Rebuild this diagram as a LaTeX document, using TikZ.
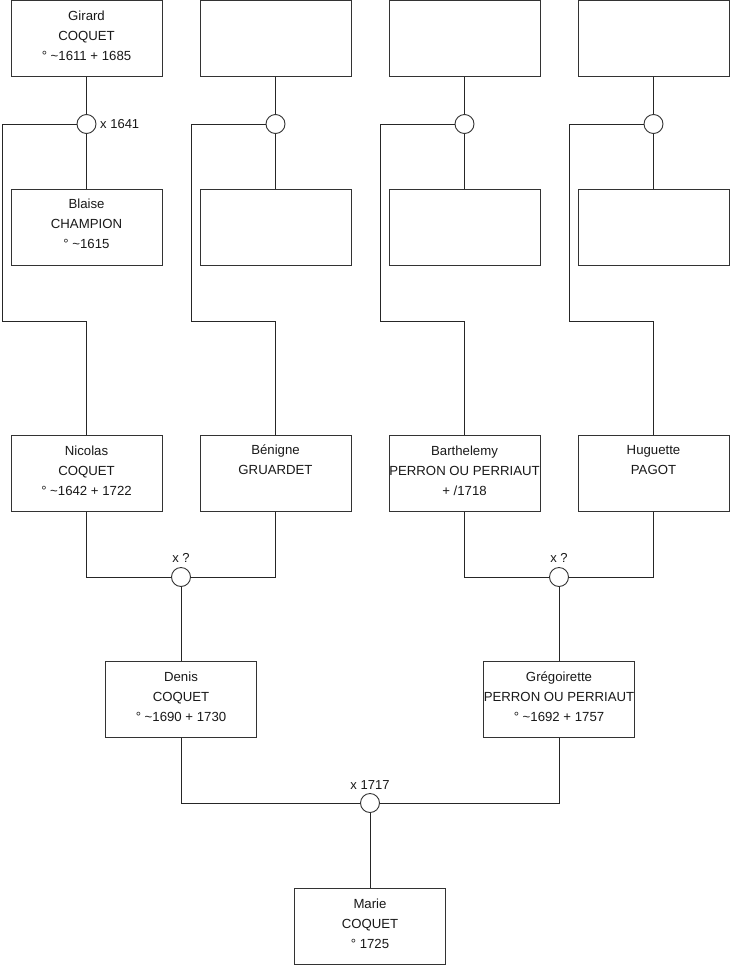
\documentclass[tikz,border=0pt]{standalone}
\usepackage{fontspec}
\setmainfont{Liberation Sans}
\begin{document}
\begin{tikzpicture}[x=1pt,y=-1pt,
  pbox/.style={draw=black!80,line width=1pt,minimum width=151pt,minimum height=76pt,inner sep=0pt},
  ptxt/.style={align=center,font=\fontsize{13.2}{20}\selectfont,inner sep=0pt,text=black!90},
  ring/.style={circle,draw=black!80,line width=0.9pt,minimum size=19pt,inner sep=0pt,fill=white},
  lbl/.style={font=\fontsize{13}{15}\selectfont,inner sep=0pt,text=black!90},
  link/.style={draw=black!85,line width=1pt}]
\useasboundingbox (0,0) rectangle (740,975);
\fill[white] (0,0) rectangle (740,975);

% top row
\node[pbox] (g1) at (86.5,38.5) {};
\node[pbox] (g2) at (275.5,38.5) {};
\node[pbox] (g3) at (464.5,38.5) {};
\node[pbox] (g4) at (653.5,38.5) {};
\node[ptxt] (t1) at (86.5,35.5) {Girard\\COQUET\\° \textasciitilde1611 + 1685};

% second row
\node[pbox] (s1) at (86.5,227) {};
\node[pbox] (s2) at (275.5,227) {};
\node[pbox] (s3) at (464.5,227) {};
\node[pbox] (s4) at (653.5,227) {};
\node[ptxt] (ts1) at (86.5,224) {Blaise\\CHAMPION\\° \textasciitilde1615};

% couple rings top
\node[ring] (c1) at (86.5,124) {};
\node[ring] (c2) at (275.5,124) {};
\node[ring] (c3) at (464.5,124) {};
\node[ring] (c4) at (653.5,124) {};
\node[lbl,anchor=west] (l1) at (100,124) {x 1641};

% third row
\node[pbox] (p1) at (86.5,473) {};
\node[pbox] (p2) at (275.5,473) {};
\node[pbox] (p3) at (464.5,473) {};
\node[pbox] (p4) at (653.5,473) {};
\node[ptxt] (tp1) at (86.5,470.5) {Nicolas\\COQUET\\° \textasciitilde1642 + 1722};
\node[ptxt,anchor=north] (tp2) at (275.5,445) {Bénigne\\GRUARDET};
\node[ptxt] (tp3) at (464.5,470.5) {Barthelemy\\PERRON OU PERRIAUT\\+ /1718};
\node[ptxt,anchor=north] (tp4) at (653.5,445) {Huguette\\PAGOT};

% middle rings
\node[ring] (m1) at (181,577) {};
\node[ring] (m2) at (559,577) {};
\node[lbl] (lm1) at (181,558) {x ?};
\node[lbl] (lm2) at (559,558) {x ?};

% fourth row
\node[pbox] (d1) at (181,699) {};
\node[pbox] (d2) at (559,699) {};
\node[ptxt] (td1) at (181,696.5) {Denis\\COQUET\\° \textasciitilde1690 + 1730};
\node[ptxt] (td2) at (559,696.5) {Grégoirette\\PERRON OU PERRIAUT\\° \textasciitilde1692 + 1757};

% bottom ring
\node[ring] (m3) at (370,803) {};
\node[lbl] (lm3) at (370,785) {x 1717};

% child
\node[pbox] (mc) at (370,926) {};
\node[ptxt] (tmc) at (370,923.5) {Marie\\COQUET\\° 1725};

% connectors top
\foreach \i/\lx in {1/2,2/191,3/380,4/569}{
  \draw[link] (g\i.south) -- (c\i.north);
  \draw[link] (c\i.south) -- (s\i.north);
  \coordinate (a\i) at (\lx,124);
  \coordinate (b\i) at (\lx,321);
  \draw[link] (c\i.west) -- (a\i) -- (b\i) -| (p\i.north);
}
% middle
\draw[link] (p1.south) |- (m1.west);
\draw[link] (p2.south) |- (m1.east);
\draw[link] (m1.south) -- (d1.north);
\draw[link] (p3.south) |- (m2.west);
\draw[link] (p4.south) |- (m2.east);
\draw[link] (m2.south) -- (d2.north);
% bottom
\draw[link] (d1.south) |- (m3.west);
\draw[link] (d2.south) |- (m3.east);
\draw[link] (m3.south) -- (mc.north);
\end{tikzpicture}
\end{document}
